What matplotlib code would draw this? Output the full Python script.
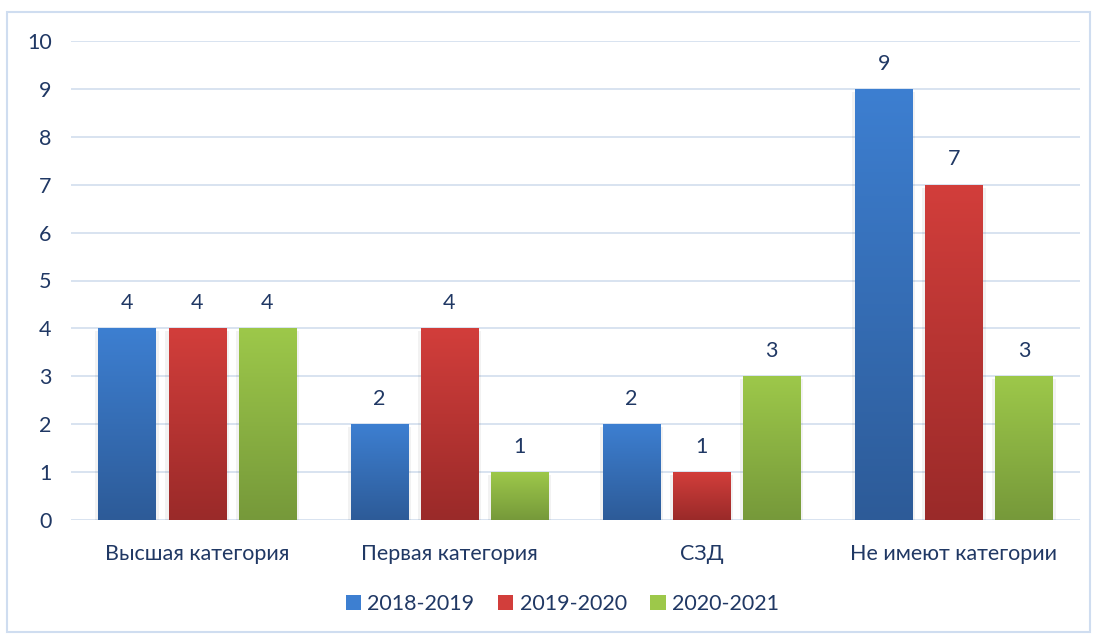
import matplotlib
matplotlib.use("Agg")
import matplotlib.pyplot as plt
import numpy as np
from matplotlib.patches import Rectangle
from matplotlib.colors import LinearSegmentedColormap

categories = ["Высшая категория", "Первая категория", "СЗД", "Не имеют категории"]
series = ["2018-2019", "2019-2020", "2020-2021"]
v2018 = [4, 2, 2, 9]
v2019 = [4, 4, 1, 7]
v2020 = [4, 1, 3, 3]
values = [v2018, v2019, v2020]
yticks = list(range(0, 11))

tops = ["#3D7FD1", "#D23E3B", "#9DC84A"]
bottoms = ["#2D5B98", "#9A2A29", "#76993A"]
text_color = "#203864"

plt.rcParams['font.family'] = ['Lato', 'DejaVu Sans']
FS = 15.5

W, H = 1097, 635
fig = plt.figure(figsize=(W/100, H/100), dpi=100)
fig.patches.append(Rectangle((7/W, 1 - 632/H), (1090-7)/W, (632-12)/H, transform=fig.transFigure,
                             fill=False, edgecolor="#CFDDF0", linewidth=1.5))

ax = fig.add_axes([71/W, 1 - 520/H, (1080-71)/W, (520-41)/H])
ax.set_yticks(yticks)
ax.yaxis.grid(True, color="#D5E0EF", linewidth=1.3)
ax.set_axisbelow(True)
for s in ax.spines.values():
    s.set_visible(False)
ax.tick_params(axis='both', length=0, labelsize=FS, colors=text_color, pad=14)
ax.tick_params(axis='x', pad=17)
x = np.arange(len(categories))
ax.set_xticks(x)
ax.set_xticklabels(categories)

bw = 0.226
step = 0.278
grad = np.linspace(0, 1, 256).reshape(-1, 1)
handles = []
for i, (vals, name) in enumerate(zip(values, series)):
    cmap = LinearSegmentedColormap.from_list(f"c{i}", [bottoms[i], tops[i]])
    pos = x + (i - 1) * step
    ax.bar(pos, vals, width=bw + 0.025, bottom=-0.06, color="#000000", alpha=0.05, zorder=1.5)
    bars = ax.bar(pos, vals, width=bw, color=tops[i], label=name, zorder=2)
    for b, v in zip(bars, vals):
        im = ax.imshow(grad, extent=[b.get_x(), b.get_x() + bw, 0, v], origin='lower',
                       cmap=cmap, aspect='auto', zorder=3)
        im.set_clip_path(b)
        ax.annotate(str(v), (b.get_x() + bw/2, v), xytext=(0, 11), textcoords='offset points',
                    ha='center', va='bottom', fontsize=FS, color=text_color)
    handles.append(bars)
ax.set_xlim(-0.5, len(categories) - 0.5)
ax.set_ylim(0, 10)

leg = ax.legend(handles=handles, loc='upper center', bbox_to_anchor=(0.487, -0.115), ncol=3,
                frameon=False, fontsize=FS, handlelength=0.7, handleheight=0.7,
                columnspacing=1.1, handletextpad=0.3)
for t in leg.get_texts():
    t.set_color(text_color)

fig.savefig("out.png", dpi=100)
